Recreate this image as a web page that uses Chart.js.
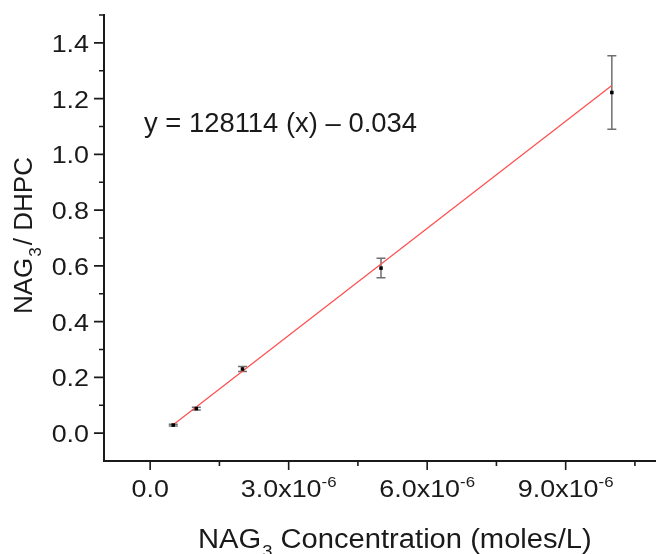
<!DOCTYPE html>
<html><head><meta charset="utf-8">
<script src="https://cdn.jsdelivr.net/npm/chart.js@4"></script>
<style>html,body{margin:0;padding:0;overflow:hidden;background:#fff}
#wrap{position:relative;width:670px;height:554px}</style>
</head><body><div id="wrap"><canvas id="c"></canvas></div>
<script>
// ---- data ----
const concentrations = [5e-7, 1e-6, 2e-6, 5e-6, 1e-5];   // moles/L
const ratios = [0.029, 0.088, 0.230, 0.592, 1.222];       // NAG3 / DHPC
const errors = [0.003, 0.005, 0.009, 0.035, 0.132];
const fitX = [5e-7, 1e-5];
const fitY = [0.030, 1.247];
const equationText = 'y = 128114 (x) \u2013 0.034';
const xMajorTicks = [0, 3e-6, 6e-6, 9e-6];
const xMajorLabels = [['0.0', ''], ['3.0x10', '-6'], ['6.0x10', '-6'], ['9.0x10', '-6']];
const xMinorTicks = [1.5e-6, 4.5e-6, 7.5e-6, 1.05e-5];
const yMajorTicks = [0, 0.2, 0.4, 0.6, 0.8, 1.0, 1.2, 1.4];
const yMajorLabels = ['0.0', '0.2', '0.4', '0.6', '0.8', '1.0', '1.2', '1.4'];
const yMinorTicks = [0.1, 0.3, 0.5, 0.7, 0.9, 1.1, 1.3, 1.5];

const FONT = '"Liberation Sans", Arial, Helvetica, sans-serif';
const INK = '#1a1a1a';

// draw text with a horizontal stretch factor sx; returns drawn width
function txt(ctx, s, x, y, size, sx) {
  ctx.save();
  ctx.font = size + 'px ' + FONT;
  ctx.translate(x, y); ctx.scale(sx, 1);
  ctx.fillText(s, 0, 0);
  ctx.restore();
}
function tw(ctx, s, size, sx) { ctx.save(); ctx.font = size + 'px ' + FONT; const w = ctx.measureText(s).width * sx; ctx.restore(); return w; }

const overlay = {
  id: 'overlay',
  beforeDatasetsDraw(chart) {
    const ctx = chart.ctx, xs = chart.scales.x, ys = chart.scales.y;
    ctx.save();
    ctx.strokeStyle = '#6f6f6f';
    ctx.lineWidth = 1.5;
    concentrations.forEach((c, i) => {
      const px = xs.getPixelForValue(c);
      const y1 = ys.getPixelForValue(ratios[i] + errors[i]);
      const y2 = ys.getPixelForValue(ratios[i] - errors[i]);
      ctx.beginPath();
      ctx.moveTo(px, y1); ctx.lineTo(px, y2);
      ctx.moveTo(px - 4.5, y1); ctx.lineTo(px + 4.5, y1);
      ctx.moveTo(px - 4.5, y2); ctx.lineTo(px + 4.5, y2);
      ctx.stroke();
    });
    ctx.restore();
  },
  afterDraw(chart) {
    const ctx = chart.ctx, xs = chart.scales.x, ys = chart.scales.y, a = chart.chartArea;
    ctx.save();
    ctx.strokeStyle = INK; ctx.fillStyle = INK; ctx.lineWidth = 2;
    // axes
    ctx.beginPath();
    ctx.moveTo(a.left, a.top - 1); ctx.lineTo(a.left, a.bottom);
    ctx.lineTo(a.right + 20, a.bottom);
    ctx.stroke();
    // ticks
    ctx.lineWidth = 1.6;
    ctx.beginPath();
    yMajorTicks.forEach(v => { const p = ys.getPixelForValue(v); ctx.moveTo(a.left, p); ctx.lineTo(a.left - 10, p); });
    yMinorTicks.forEach(v => { const p = ys.getPixelForValue(v); ctx.moveTo(a.left, p); ctx.lineTo(a.left - 5, p); });
    xMajorTicks.forEach(v => { const p = xs.getPixelForValue(v); ctx.moveTo(p, a.bottom); ctx.lineTo(p, a.bottom + 9); });
    xMinorTicks.forEach(v => { const p = xs.getPixelForValue(v); ctx.moveTo(p, a.bottom); ctx.lineTo(p, a.bottom + 5); });
    ctx.stroke();
    ctx.textAlign = 'left'; ctx.textBaseline = 'alphabetic';
    // y labels (right aligned)
    const SX = 1.12;
    yMajorTicks.forEach((v, i) => {
      const w = tw(ctx, yMajorLabels[i], 24, SX);
      txt(ctx, yMajorLabels[i], a.left - 15 - w, ys.getPixelForValue(v) + 9, 24, SX);
    });
    // x labels with superscript
    xMajorTicks.forEach((v, i) => {
      const [main, sup] = xMajorLabels[i];
      const w1 = tw(ctx, main, 24, SX);
      const w2 = sup ? tw(ctx, sup, 15, SX) : 0;
      const x0 = xs.getPixelForValue(v) - (w1 + w2) / 2;
      txt(ctx, main, x0, 497, 24, SX);
      if (sup) txt(ctx, sup, x0 + w1, 487, 15, SX);
    });
    // x title
    const TS = 1.08;
    let x = 198;
    txt(ctx, 'NAG', x, 548, 27, TS); x += tw(ctx, 'NAG', 27, TS);
    txt(ctx, '3', x + 1, 557, 17, TS); x += tw(ctx, '3', 17, TS) + 1;
    txt(ctx, ' Concentration (moles/L)', x, 548, 27, TS);
    // y title (rotated)
    ctx.save();
    ctx.translate(32, 314); ctx.rotate(-Math.PI / 2);
    let t = 0;
    txt(ctx, 'NAG', t, 0, 26, 1); t += tw(ctx, 'NAG', 26, 1);
    txt(ctx, '3', t + 1, 9, 17, 1); t += tw(ctx, '3', 17, 1) + 1;
    txt(ctx, '/ DHPC', t + 2, 0, 26, 1);
    ctx.restore();
    // equation
    txt(ctx, equationText, 144, 132, 27, 1.015);
    ctx.restore();
  }
};

new Chart(document.getElementById('c'), {
  type: 'scatter',
  data: {
    datasets: [
      {
        label: 'data', order: 0,
        data: concentrations.map((c, i) => ({ x: c, y: ratios[i] })),
        pointStyle: 'rect', pointRadius: 2.5, pointBackgroundColor: '#000', pointBorderColor: '#000', pointBorderWidth: 0,
        showLine: false
      },
      {
        label: 'fit', order: 1,
        data: fitX.map((c, i) => ({ x: c, y: fitY[i] })),
        showLine: true, borderColor: '#ff4d4d', borderWidth: 1.2, pointRadius: 0, fill: false
      }
    ]
  },
  options: {
    responsive: true, maintainAspectRatio: false, animation: false,
    layout: { padding: { left: 104, top: 15, right: 12, bottom: 93 } },
    plugins: { legend: { display: false }, tooltip: { enabled: false } },
    scales: {
      x: { type: 'linear', display: false, min: -1e-6, max: 1.1e-5 },
      y: { type: 'linear', display: false, min: -0.1, max: 1.5 }
    }
  },
  plugins: [overlay]
});
</script></body></html>
